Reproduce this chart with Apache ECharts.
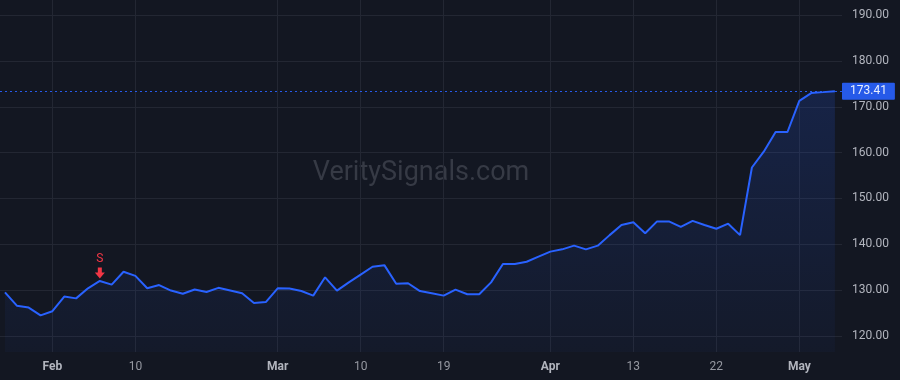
<!DOCTYPE html>
<html>
<head>
<meta charset="utf-8">
<title>VeritySignals</title>
<script src="https://cdn.jsdelivr.net/npm/echarts@6/dist/echarts.min.js"></script>
<style>
  html, body { margin: 0; padding: 0; background: #131722; }
  #chart { width: 900px; height: 380px; }
</style>
</head>
<body>
<div id="chart"></div>
<script>
// trading days shown on the chart
var dates = [
    '2021-01-26', '2021-01-27', '2021-01-28', '2021-01-29',
    '2021-02-01', '2021-02-02', '2021-02-03', '2021-02-04', '2021-02-05',
    '2021-02-08', '2021-02-09', '2021-02-10', '2021-02-11', '2021-02-12',
    '2021-02-16', '2021-02-17', '2021-02-18', '2021-02-19',
    '2021-02-22', '2021-02-23', '2021-02-24', '2021-02-25', '2021-02-26',
    '2021-03-01', '2021-03-02', '2021-03-03', '2021-03-04', '2021-03-05',
    '2021-03-08', '2021-03-09', '2021-03-10', '2021-03-11', '2021-03-12',
    '2021-03-15', '2021-03-16', '2021-03-17', '2021-03-18', '2021-03-19',
    '2021-03-22', '2021-03-23', '2021-03-24', '2021-03-25', '2021-03-26',
    '2021-03-29', '2021-03-30', '2021-03-31',
    '2021-04-01', '2021-04-05', '2021-04-06', '2021-04-07', '2021-04-08', '2021-04-09',
    '2021-04-12', '2021-04-13', '2021-04-14', '2021-04-15', '2021-04-16',
    '2021-04-19', '2021-04-20', '2021-04-21', '2021-04-22', '2021-04-23',
    '2021-04-26', '2021-04-27', '2021-04-28', '2021-04-29', '2021-04-30',
    '2021-05-03', '2021-05-04', '2021-05-05', '2021-05-06'
];

var closes = [
    129.5, 126.6, 126.2, 124.5,
    125.4, 128.6, 128.2, 130.4, 132.0,
    131.2, 134.0, 133.1, 130.4, 131.1,
    129.9, 129.2, 130.15, 129.6,
    130.5, 129.9, 129.3, 127.2, 127.4,
    130.4, 130.35, 129.8, 128.8, 132.8,
    129.9, 131.7, 133.4, 135.1, 135.45,
    131.4, 131.5, 129.8, 129.3, 128.8,
    130.1, 129.1, 129.1, 131.7, 135.7,
    135.7, 136.2, 137.3,
    138.4, 138.9, 139.7, 138.9, 139.7, 142.0,
    144.2, 144.8, 142.4, 145.0, 145.0,
    143.8, 145.1, 144.2, 143.4, 144.5,
    142.0, 156.75, 160.2, 164.5, 164.5,
    171.3, 173.0, 173.2, 173.41
];

var tickDates = ['2021-02-01', '2021-02-10', '2021-03-01', '2021-03-10', '2021-03-19',
                 '2021-04-01', '2021-04-13', '2021-04-22', '2021-05-03'];
var monthNames = ['Jan', 'Feb', 'Mar', 'Apr', 'May', 'Jun', 'Jul', 'Aug', 'Sep', 'Oct', 'Nov', 'Dec'];

var signals = [{ date: '2021-02-05', text: 'S' }];

var priceMin = 116.5;
var priceMax = 193.3;

var chart = echarts.init(document.getElementById('chart'));

var points = closes.map(function (v, i) { return [i, v]; });
var tickIdx = tickDates.map(function (d) { return dates.indexOf(d); });
var last = closes[closes.length - 1];

function dateLabel(idx) {
    var d = dates[idx];
    if (!d) return '';
    var prev = dates[idx - 1];
    if (!prev || prev.slice(5, 7) !== d.slice(5, 7)) {
        return '{m|' + monthNames[parseInt(d.slice(5, 7), 10) - 1] + '}';
    }
    return '{d|' + parseInt(d.slice(8, 10), 10) + '}';
}

var signalMarks = signals.map(function (s) {
    var i = dates.indexOf(s.date);
    return {
        coord: [i, closes[i]],
        value: s.text,
        symbol: 'path://M3,0 L7,0 L7,5 L10,5 L5,11 L0,5 L3,5 Z',
        symbolSize: [10, 11],
        symbolOffset: [0, -8],
        itemStyle: { color: '#f23645' },
        label: {
            show: true,
            position: 'top',
            distance: 2,
            formatter: s.text,
            color: '#f23645',
            fontSize: 12,
            fontFamily: 'Roboto'
        }
    };
});

var option = {
    backgroundColor: '#131722',
    animation: false,
    textStyle: { fontFamily: 'Roboto' },
    graphic: [{
        type: 'text',
        x: 421,
        y: 173,
        z: 0,
        style: {
            text: 'VeritySignals.com',
            fill: '#363a45',
            font: '27px Roboto',
            align: 'center',
            verticalAlign: 'middle'
        }
    }],
    grid: {
        left: 0,
        right: 58,
        top: 0,
        bottom: 28
    },
    xAxis: {
        type: 'value',
        min: -0.42,
        max: 70.6,
        axisLine: { show: false },
        axisTick: { show: false, customValues: tickIdx },
        axisLabel: {
            customValues: tickIdx,
            margin: 9,
            formatter: function (v) { return dateLabel(v); },
            rich: {
                m: { color: '#b2b5be', fontWeight: 'bold', fontSize: 12, fontFamily: 'Roboto' },
                d: { color: '#9598a1', fontSize: 12, fontFamily: 'Roboto' }
            }
        },
        splitLine: { show: true, lineStyle: { color: '#232733', width: 1 } }
    },
    yAxis: {
        type: 'value',
        position: 'right',
        min: priceMin,
        max: priceMax,
        splitNumber: 8,
        axisLine: { show: false },
        axisTick: { show: false },
        axisLabel: {
            color: '#b2b5be',
            fontSize: 12,
            margin: 10,
            showMinLabel: false,
            showMaxLabel: false,
            formatter: function (v) { return v.toFixed(2); }
        },
        splitLine: {
            show: true,
            showMinLine: false,
            showMaxLine: false,
            lineStyle: { color: '#232733', width: 1 }
        }
    },
    series: [{
        type: 'line',
        data: points,
        symbol: 'none',
        clip: false,
        z: 3,
        lineStyle: { color: '#2962ff', width: 2 },
        areaStyle: {
            origin: 'start',
            color: new echarts.graphic.LinearGradient(0, 0, 0, 1, [
                { offset: 0, color: 'rgba(41,98,255,0.24)' },
                { offset: 1, color: 'rgba(41,98,255,0.05)' }
            ])
        },
        markLine: {
            silent: true,
            symbol: 'none',
            data: [{ yAxis: last }],
            lineStyle: { color: '#2962ff', type: [2, 3], width: 1, opacity: 0.9 },
            label: {
                show: true,
                position: 'end',
                distance: 0,
                formatter: function () { return last.toFixed(2); },
                color: '#ffffff',
                fontSize: 12,
                lineHeight: 13,
                backgroundColor: '#2962ff',
                padding: [2, 8, 2, 8],
                borderRadius: 1
            }
        },
        markPoint: {
            silent: true,
            data: signalMarks
        }
    }]
};

chart.setOption(option);
</script>
</body>
</html>
